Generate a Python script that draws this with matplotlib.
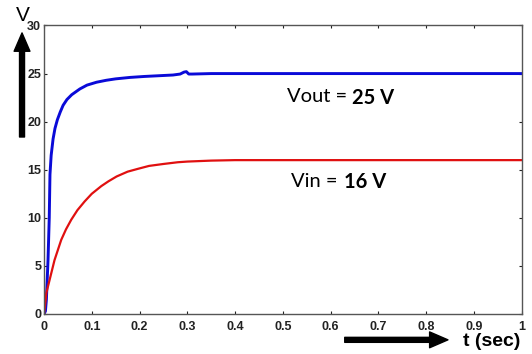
import matplotlib
matplotlib.use("Agg")
import matplotlib.pyplot as plt

# values
t_out = [0, 0.003, 0.005, 0.0084, 0.011, 0.0125, 0.015, 0.019, 0.023, 0.028, 0.034,
         0.040, 0.048, 0.058, 0.075, 0.09, 0.11, 0.13, 0.15, 0.18, 0.21, 0.25,
         0.27, 0.285, 0.293, 0.298, 0.303, 0.31, 0.35, 0.4, 0.6, 0.8, 1.0]
v_out = [0, 0.3, 1.5, 5.6, 10, 14.5, 16.5, 18.2, 19.3, 20.2, 21.0,
         21.7, 22.3, 22.8, 23.4, 23.8, 24.1, 24.3, 24.45, 24.6, 24.7, 24.8,
         24.85, 24.95, 25.15, 25.2, 24.95, 24.95, 25, 25, 25, 25, 25]

t_in = [0, 0.002, 0.005, 0.012, 0.022, 0.036, 0.046, 0.057, 0.07, 0.085, 0.1,
        0.12, 0.135, 0.152, 0.175, 0.197, 0.22, 0.25, 0.28, 0.3, 0.35, 0.4, 0.6, 1.0]
v_in = [0, 0.8, 2.2, 3.6, 5.6, 7.7, 8.8, 9.8, 10.8, 11.7, 12.5,
        13.3, 13.8, 14.3, 14.8, 15.1, 15.4, 15.6, 15.78, 15.85, 15.95, 16, 16, 16]

xticks = [0, 0.1, 0.2, 0.3, 0.4, 0.5, 0.6, 0.7, 0.8, 0.9, 1]
xticklabels = ["0", "0.1", "0.2", "0.3", "0.4", "0.5", "0.6", "0.7", "0.8", "0.9", "1"]
yticks = [0, 5, 10, 15, 20, 25, 30]

plt.rcParams['font.family'] = ['Liberation Sans', 'DejaVu Sans']

fig = plt.figure(figsize=(5.32, 3.54), dpi=100)
ax = fig.add_axes([0.0827, 0.113, 0.898, 0.815])

ax.plot(t_out, v_out, color='#0a0ad8', lw=2.1)
ax.plot(t_in, v_in, color='#e01010', lw=1.6)

ax.set_xlim(0, 1)
ax.set_ylim(0, 30)
ax.set_xticks(xticks)
ax.set_xticklabels(xticklabels)
ax.set_yticks(yticks)
ax.tick_params(direction='in', length=2.5, width=0.8, top=True, right=True,
               labelsize=9, colors='#222222')
for lab in ax.get_xticklabels() + ax.get_yticklabels():
    lab.set_fontweight('bold')
ax.tick_params(axis='x', pad=5)
ax.tick_params(axis='y', pad=2)
for s in ax.spines.values():
    s.set_color('#555555')
    s.set_linewidth(1.0)

# curve labels
lbl_font = ['Lato', 'DejaVu Sans']
ax.text(0.509, 22.6, "Vout =", fontsize=14.5, family=lbl_font, va='center', ha='left')
ax.text(0.645, 22.5, "25 V", fontsize=14.5, family=lbl_font,
        fontweight='bold', va='center', ha='left')
ax.text(0.516, 13.8, "Vin =", fontsize=14.5, family=lbl_font, va='center', ha='left')
ax.text(0.628, 13.7, "16 V", fontsize=14.5, family=lbl_font,
        fontweight='bold', va='center', ha='left')

# axis arrows and labels
arrow = dict(arrowstyle='simple,tail_width=0.3,head_width=0.95,head_length=1.1',
             mutation_scale=12, color='black', shrinkA=0, shrinkB=0)
ax.annotate('', xy=(0.0414, 0.907), xytext=(0.0414, 0.613),
            xycoords='figure fraction', textcoords='figure fraction',
            arrowprops=arrow, annotation_clip=False)
ax.annotate('', xy=(0.842, 0.040), xytext=(0.648, 0.040),
            xycoords='figure fraction', textcoords='figure fraction',
            arrowprops=arrow, annotation_clip=False)
fig.text(0.043, 0.957, "V", fontsize=15, ha='center', va='center')
fig.text(0.925, 0.036, "t (sec)", fontsize=14, fontweight='bold',
         ha='center', va='center')

fig.savefig("out.png", dpi=100)
